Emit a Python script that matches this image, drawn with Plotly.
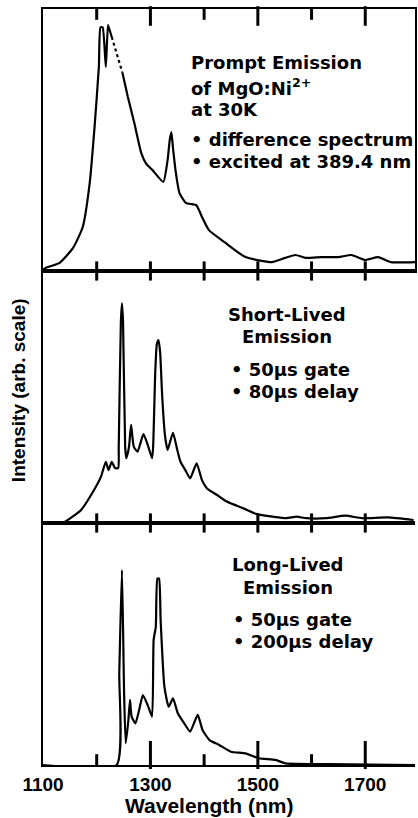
import plotly.graph_objects as go

# ---------------- data ----------------
wl_prompt = [1100, 1104, 1131, 1156, 1174, 1187, 1196, 1204, 1207, 1211, 1217, 1221, 1224, 1228,
             1248, 1258, 1270, 1283, 1292, 1304, 1324, 1332, 1336, 1339, 1342, 1347, 1354, 1366,
             1377, 1385, 1391, 1396, 1409, 1440, 1477, 1526, 1551, 1570, 1589, 1619, 1650, 1674,
             1700, 1724, 1748, 1793]
int_prompt = [0.5, 1.1, 3.1, 8.8, 16.8, 33.6, 55, 77.9, 93, 93, 77.9, 93.9, 92, 89.3,
              75.6, 66.4, 56.5, 45, 41, 38.5, 34, 42.4, 50, 53, 47, 38, 29.8, 26,
              25.5, 25.2, 23, 20.6, 15.6, 10.7, 5.3, 3.4, 5, 6.1, 5, 5.3, 5.3, 6.1,
              4.2, 5.3, 3.4, 3.4]
gap_start, gap_end = 1228, 1248

wl_short = [1100, 1141, 1146, 1171, 1195, 1208, 1217, 1222, 1228, 1234, 1240, 1241, 1245, 1247,
            1249, 1253, 1255, 1260, 1264, 1269, 1276, 1287, 1295, 1303, 1305, 1309, 1312, 1315,
            1318, 1322, 1327, 1332, 1342, 1350, 1356, 1365, 1374, 1386, 1396, 1405, 1424, 1442,
            1473, 1498, 1528, 1553, 1572, 1590, 1627, 1663, 1694, 1742, 1790]
int_short = [0, 0.5, 1.2, 5.2, 13.1, 18.4, 24.3, 21, 24.3, 21.8, 21.8, 30, 80, 87.2,
             80, 30, 25.7, 30, 38.9, 30.3, 28.3, 35.3, 31, 25.7, 30, 60, 71, 72.6,
             68, 50, 35, 29, 35.8, 29, 24.3, 21, 17.7, 23.7, 17, 13.8, 11.1, 8.5,
             5.8, 3.5, 2.5, 1.9, 2.5, 1.9, 1.9, 2.9, 1.9, 2.2, 1.2]

wl_long = [1100, 1237, 1242, 1247, 1251, 1254, 1259, 1262, 1265, 1272, 1279, 1286, 1296, 1303,
           1306, 1310, 1313, 1316, 1319, 1326, 1334, 1342, 1351, 1363, 1374, 1388, 1397, 1410,
           1428, 1450, 1477, 1502, 1533, 1551, 1630, 1793]
int_long = [0, 0, 38, 80.6, 29.6, 9, 18.6, 26.9, 20, 17.2, 22.7, 28.9, 24.1, 20,
            51.7, 57.1, 77.1, 77.1, 59.9, 32.4, 24.1, 27.5, 21.4, 17.2, 13.8, 20.7, 14.5, 10.3,
            8.3, 5.5, 4.8, 2.8, 2.1, 0.7, 0.4, 0]

x_range = [1100, 1792.6]
major_ticks = [1100, 1300, 1500, 1700]   # labelled
minor_ticks = [1200, 1400, 1600]         # unlabelled

# ---------------- layout geometry ----------------
W, H = 418, 818
ML, MR, MT, MB = 43, 1, 9, 53
PW, PH = W - ML - MR, H - MT - MB
b12, b23 = 271, 523


def py(y):
    return (H - MB - y) / PH


def px(x):
    return (x - ML) / PW


dom1 = [py(b12), 1]
dom2 = [py(b23), py(b12)]
dom3 = [0, py(b23)]
panel_px = [b12 - MT, b23 - b12, H - MB - b23]
Y_TOP = 100

LW = 2.2
SM = 0.5
fig = go.Figure()


def line(dash="solid"):
    return dict(color="black", width=LW, dash=dash, shape="spline", smoothing=SM)


i0 = wl_prompt.index(gap_start)
i1 = wl_prompt.index(gap_end)
fig.add_trace(go.Scatter(x=wl_prompt[:i0 + 1], y=int_prompt[:i0 + 1], mode="lines",
                         line=line(), xaxis="x", yaxis="y"))
fig.add_trace(go.Scatter(x=wl_prompt[i1:], y=int_prompt[i1:], mode="lines",
                         line=line(), xaxis="x", yaxis="y"))
fig.add_trace(go.Scatter(x=[wl_prompt[i0], wl_prompt[i1]], y=[int_prompt[i0], int_prompt[i1]],
                         mode="lines", line=dict(color="black", width=LW, dash="dot"),
                         xaxis="x", yaxis="y"))
fig.add_trace(go.Scatter(x=wl_short, y=int_short, mode="lines",
                         line=line(), xaxis="x2", yaxis="y2"))
fig.add_trace(go.Scatter(x=wl_long, y=int_long, mode="lines",
                         line=line(), xaxis="x3", yaxis="y3"))

# tick marks (inside) as vertical line markers centred half a tick inside each edge
# (top major, top minor, bottom major, bottom minor) lengths in px
tick_lens = [(14, 9, 8, 8), (8, 8, 8, 8), (8, 8, 20, 9)]
for p, (tmaj, tmin, bmaj, bmin) in enumerate(tick_lens):
    xa = "x" if p == 0 else f"x{p + 1}"
    ya = "y" if p == 0 else f"y{p + 1}"
    scale = Y_TOP / panel_px[p]
    for edge, (lmaj, lmin) in (("top", (tmaj, tmin)), ("bottom", (bmaj, bmin))):
        for vals, L in ((major_ticks[1:], lmaj), (minor_ticks, lmin)):
            yc = Y_TOP - L / 2 * scale if edge == "top" else L / 2 * scale
            fig.add_trace(go.Scatter(
                x=vals, y=[yc] * len(vals), mode="markers", xaxis=xa, yaxis=ya,
                hoverinfo="skip", cliponaxis=False,
                marker=dict(symbol="line-ns-open", size=L, color="black",
                            line=dict(color="black", width=3))))

tickfont = dict(family="Liberation Sans", size=19, color="black")


def xax(anchor, labels=False):
    return dict(range=x_range, anchor=anchor, showgrid=False, zeroline=False,
                showline=True, linecolor="black", linewidth=LW, mirror=True,
                ticks="", tickmode="array", tickvals=major_ticks,
                ticktext=[f"<b>{v}</b>" for v in major_ticks],
                showticklabels=labels, tickfont=tickfont, ticklabelstandoff=1)


def yax(domain, anchor, mirror=False):
    return dict(domain=domain, anchor=anchor, range=[0, Y_TOP], showgrid=False,
                zeroline=False, showticklabels=False, ticks="", showline=True,
                linecolor="black", linewidth=LW, mirror=mirror)


fig.update_layout(
    width=W, height=H, margin=dict(l=ML, r=MR, t=MT, b=MB),
    paper_bgcolor="white", plot_bgcolor="white", showlegend=False,
    xaxis=xax("y"), xaxis2=xax("y2"), xaxis3=xax("y3", labels=True),
    yaxis=yax(dom1, "x", mirror=True),
    yaxis2=yax(dom2, "x2"),
    yaxis3=yax(dom3, "x3"),
)

afont = dict(family="DejaVu Sans", size=18, color="black")
notes = [
    ("<b>Prompt Emission</b>", 190, 62, "left"),
    ("<b>of MgO:Ni<sup>2+</sup></b>", 190, 87, "left"),
    ("<b>at 30K</b>", 190, 109, "left"),
    ("<b>• difference spectrum</b>", 190, 139, "left"),
    ("<b>• excited at 389.4 nm</b>", 190, 162, "left"),
    ("<b>Short-Lived</b>", 288, 314, "center"),
    ("<b>Emission</b>", 288, 336, "center"),
    ("<b>• 50μs gate</b>", 230, 369, "left"),
    ("<b>• 80μs delay</b>", 230, 391, "left"),
    ("<b>Long-Lived</b>", 289, 564, "center"),
    ("<b>Emission</b>", 289, 587, "center"),
    ("<b>• 50μs gate</b>", 232, 619, "left"),
    ("<b>• 200μs delay</b>", 232, 641, "left"),
]
for t, x, y, xa in notes:
    fig.add_annotation(text=t, x=px(x), y=py(y), xref="paper", yref="paper",
                       xanchor=xa, yanchor="middle", showarrow=False, font=afont)

fig.add_annotation(text="<b>Wavelength (nm)</b>", x=px(210), y=py(805), xref="paper",
                   yref="paper", xanchor="center", yanchor="middle", showarrow=False,
                   font=dict(family="Liberation Sans", size=21, color="black"))
fig.add_annotation(text="<b>Intensity (arb. scale)</b>", x=px(18), y=py(390), xref="paper",
                   yref="paper", xanchor="center", yanchor="middle", textangle=-90,
                   showarrow=False, font=dict(family="Liberation Sans", size=19, color="black"))

fig.write_html("out.html")
